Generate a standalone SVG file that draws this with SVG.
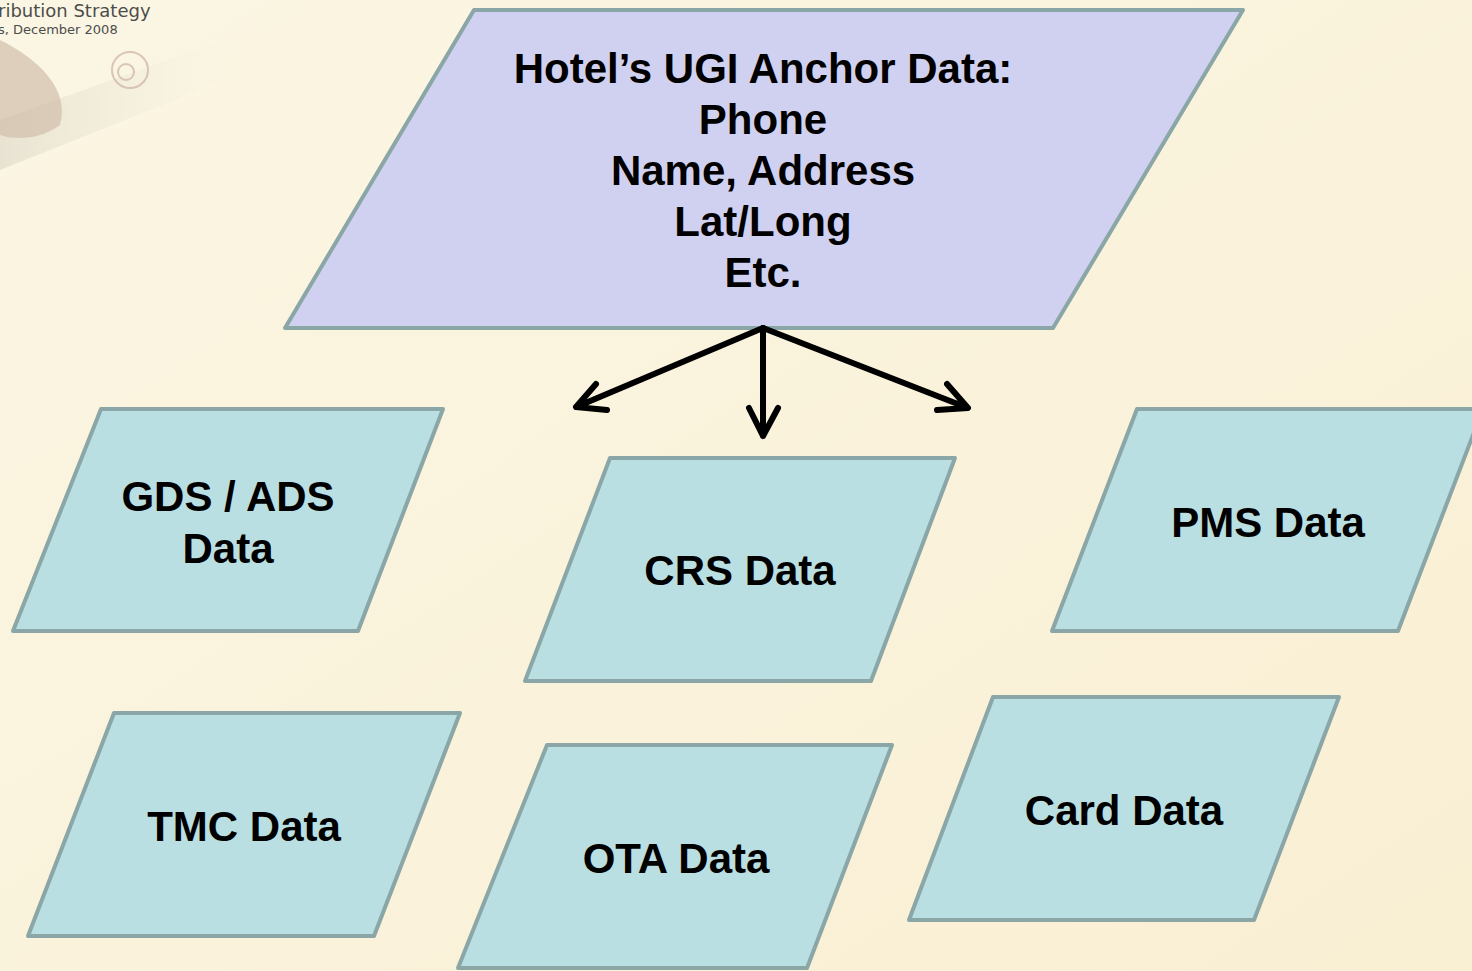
<svg xmlns="http://www.w3.org/2000/svg" width="1472" height="971" viewBox="0 0 1472 971">
<defs>
<linearGradient id="bg" x1="0" y1="0" x2="1" y2="1">
<stop offset="0" stop-color="#fbf6e4"/>
<stop offset="1" stop-color="#f9efd3"/>
</linearGradient>
<linearGradient id="band" x1="0" y1="0" x2="1" y2="0">
<stop offset="0" stop-color="#d9d4c4"/>
<stop offset="1" stop-color="#f4efdf" stop-opacity="0"/>
</linearGradient>
<style>
.node{fill:#b9dfe2;stroke:#8aa6a6;stroke-width:4;stroke-linejoin:round}
.top{fill:#d0d1f0}
.lbl{font-family:"Liberation Sans",Arial,sans-serif;font-weight:bold;font-size:42px;fill:#000;text-anchor:middle}
.conn{fill:none;stroke:#000;stroke-width:6;stroke-linecap:round;stroke-linejoin:round}
.hdr{font-family:"DejaVu Sans",sans-serif;fill:#3a3a3a}
</style>
</defs>
<rect width="1472" height="971" fill="url(#bg)"/>
<g id="background" opacity="0.9">
<path d="M0,120 L250,30 L250,70 L0,170 Z" fill="url(#band)" opacity="0.6"/>
<path d="M0,40 C40,60 70,90 60,125 C40,140 15,140 0,135 Z" fill="#cdb9a5" opacity="0.7"/>
<circle cx="130" cy="70" r="18" fill="none" stroke="#c9a99b" stroke-width="2" opacity="0.7"/>
<circle cx="126" cy="72" r="8" fill="none" stroke="#c9a99b" stroke-width="2" opacity="0.7"/>
<text class="hdr" x="-2" y="17" font-size="18">ribution Strategy</text>
<text class="hdr" x="-2" y="34" font-size="13">s, December 2008</text>
</g>
<g id="anchor">
<polygon class="node top" points="474,10 1243,10 1053,328 285,328"/>
<text class="lbl" x="763" y="83">Hotel’s UGI Anchor Data:</text>
<text class="lbl" x="763" y="134">Phone</text>
<text class="lbl" x="763" y="185">Name, Address</text>
<text class="lbl" x="763" y="236">Lat/Long</text>
<text class="lbl" x="763" y="287">Etc.</text>
</g>
<g id="gds">
<polygon class="node" points="101,409 443,409 358,631 13,631"/>
<text class="lbl" x="228" y="511">GDS / ADS</text>
<text class="lbl" x="228" y="563">Data</text>
</g>
<g id="crs">
<polygon class="node" points="610,458 955,458 871,681 525,681"/>
<text class="lbl" x="740" y="585">CRS Data</text>
</g>
<g id="pms">
<polygon class="node" points="1137,409 1483,409 1398,631 1052,631"/>
<text class="lbl" x="1268" y="537">PMS Data</text>
</g>
<g id="tmc">
<polygon class="node" points="114,713 460,713 374,936 28,936"/>
<text class="lbl" x="244" y="841">TMC Data</text>
</g>
<g id="ota">
<polygon class="node" points="547,745 892,745 807,968 458,968"/>
<text class="lbl" x="676" y="873">OTA Data</text>
</g>
<g id="card">
<polygon class="node" points="993,697 1339,697 1254,920 909,920"/>
<text class="lbl" x="1124" y="825">Card Data</text>
</g>
<g id="connectors">
<path class="conn" d="M763,328 L576,407 M596,384 L576,407 L607,410"/>
<path class="conn" d="M763,328 L763,436 M749,408 L763,436 L778,408"/>
<path class="conn" d="M763,328 L968,408 M947,384 L968,408 L937,410"/>
</g>
</svg>
